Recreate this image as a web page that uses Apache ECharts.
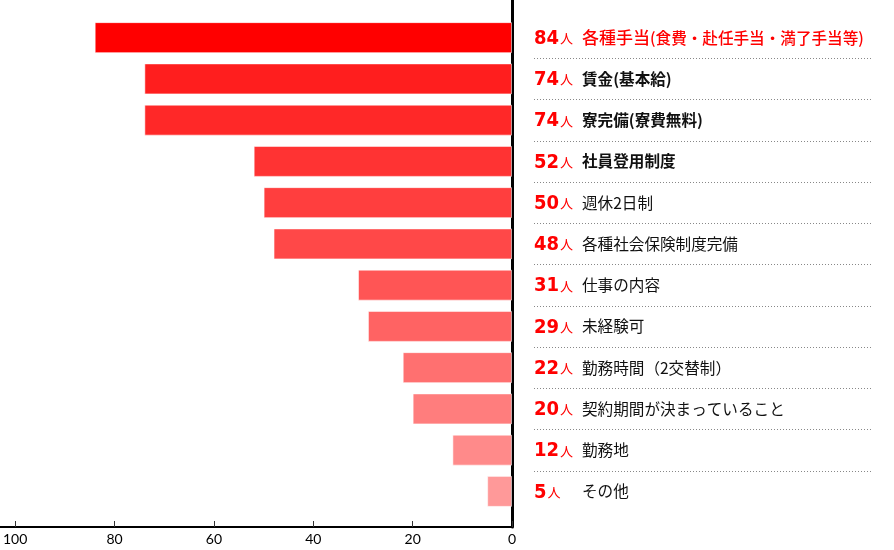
<!DOCTYPE html>
<html><head><meta charset="utf-8">
<script src="https://cdn.jsdelivr.net/npm/echarts@6/dist/echarts.min.js"></script>
<style>html,body{margin:0;padding:0;background:#fff}#c{width:894px;height:550px}</style>
</head><body><div id="c"></div>
<script>
const categories = ['各種手当(食費・赴任手当・満了手当等)', '賃金(基本給)', '寮完備(寮費無料)', '社員登用制度', '週休2日制', '各種社会保険制度完備', '仕事の内容', '未経験可', '勤務時間（2交替制）', '契約期間が決まっていること', '勤務地', 'その他'];
const values = [84, 74, 74, 52, 50, 48, 31, 29, 22, 20, 12, 5];
const unit = '人';
const xTicks = [0, 20, 40, 60, 80, 100];
const barColors = ['#ff0000', '#ff1e1e', '#ff2828', '#ff3333', '#ff3e3e', '#ff4848', '#ff5555', '#ff6363', '#ff7070', '#ff7d7d', '#ff8a8a', '#ff9999'];
const boldRows = [1, 2, 3];

const JP = '"Noto Sans CJK JP", sans-serif';
const NUM = '"Liberation Sans Narrow", "DejaVu Sans Condensed", sans-serif';

const chart = echarts.init(document.getElementById('c'));
chart.setOption({
  animation: false,
  grid: [
    {left: 12, width: 500, top: 17, height: 495},
    {left: 0, width: 512, top: 0, height: 527},
    {left: 534, width: 338, top: 17, height: 495}
  ],
  xAxis: [
    {gridIndex: 0, type: 'value', inverse: true, min: xTicks[0], max: xTicks[xTicks.length - 1], interval: 20, offset: 15,
     axisLine: {show: false}, splitLine: {show: false},
     axisTick: {show: true, inside: true, length: 6, lineStyle: {color: '#333', width: 1}},
     axisLabel: {color: '#000', fontSize: 14, margin: 5, fontFamily: 'Lato, "Open Sans", sans-serif'}},
    {gridIndex: 1, type: 'value', min: 0, max: 1, axisLine: {show: true, onZero: false, lineStyle: {color: '#000', width: 2}},
     axisTick: {show: false}, axisLabel: {show: false}, splitLine: {show: false}},
    {gridIndex: 2, type: 'value', min: 0, max: 1, show: false}
  ],
  yAxis: [
    {gridIndex: 0, type: 'category', data: categories, inverse: true, position: 'right',
     axisLine: {show: false}, axisTick: {show: false}, splitLine: {show: false},
     axisLabel: {margin: 70, align: 'left', color: '#111', fontSize: 15.6, fontFamily: JP,
       formatter: function (v, i) {
         if (i === 0) {
           const p = v.indexOf('(');
           return '{ha|' + v.slice(0, p) + '}{hb|' + v.slice(p) + '}';
         }
         if (boldRows.indexOf(i) >= 0) return '{b|' + v + '}';
         return v;
       },
       rich: {
         ha: {color: '#ff0000', fontSize: 17, fontFamily: JP, fontWeight: 500},
         hb: {color: '#ff0000', fontSize: 15.6, fontFamily: JP, fontWeight: 500},
         b: {color: '#111', fontSize: 15.6, fontFamily: JP, fontWeight: 'bold'}
       }}},
    {gridIndex: 1, type: 'value', min: 0, max: 1, position: 'right',
     axisLine: {show: true, onZero: false, lineStyle: {color: '#000', width: 3}},
     axisTick: {show: false}, axisLabel: {show: false}, splitLine: {show: false}},
    {gridIndex: 2, type: 'category', data: categories, inverse: true,
     axisLine: {show: false}, axisTick: {show: false}, axisLabel: {show: false},
     splitLine: {show: true, showMinLine: false, showMaxLine: false, lineStyle: {color: '#888', type: [1, 2], width: 1}}}
  ],
  series: [{
    type: 'bar', xAxisIndex: 0, yAxisIndex: 0,
    data: values.map((v, i) => ({value: v, itemStyle: {color: barColors[i]}})),
    barWidth: 31,
    itemStyle: {borderColor: 'rgba(255,255,255,0.55)', borderWidth: 1},
    label: {show: true, position: 'right', distance: 22,
      formatter: p => '{n|' + p.value + '}{u|' + unit + '}',
      rich: {
        n: {color: '#ff0000', fontSize: 20, fontFamily: NUM, fontWeight: 'bold', verticalAlign: 'bottom', lineHeight: 22},
        u: {color: '#ff0000', fontSize: 13, fontFamily: JP, verticalAlign: 'bottom', lineHeight: 13, padding: [0, 0, 4, 1]}
      }}
  }]
});
</script></body></html>
